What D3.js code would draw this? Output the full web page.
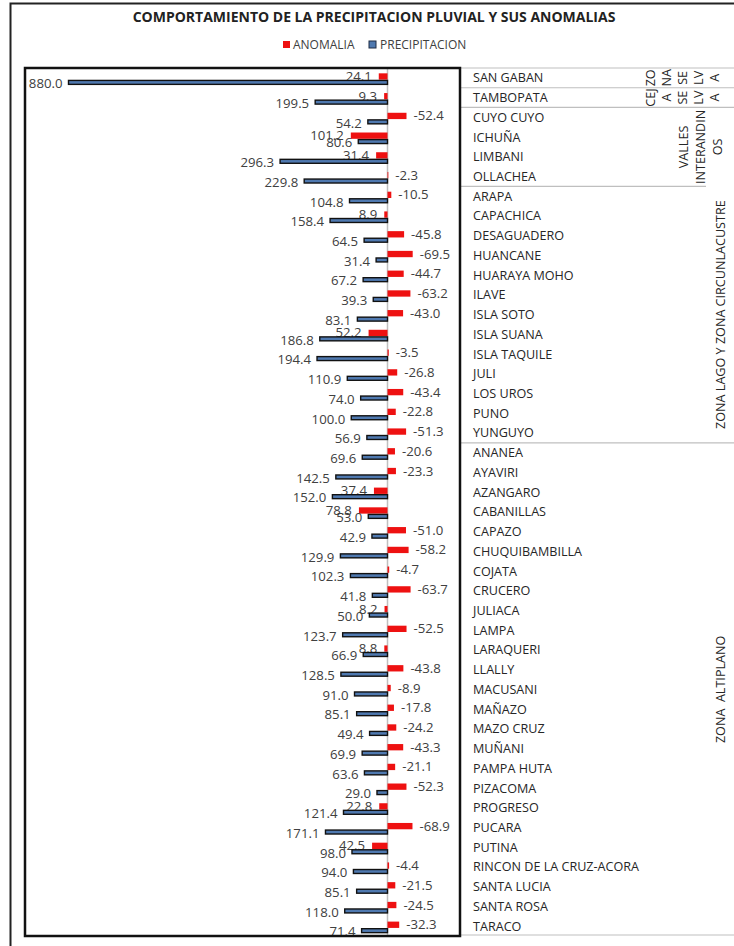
<!DOCTYPE html>
<html>
<head>
<meta charset="utf-8">
<script src="https://cdn.jsdelivr.net/npm/d3@7"></script>
<style>
  body { margin: 0; background: #fff; }
  text { font-family: "Open Sans", "Liberation Sans", sans-serif; }
</style>
</head>
<body>
<div id="chart"></div>
<script>
// estaciones, de arriba hacia abajo
var estaciones = ["SAN GABAN", "TAMBOPATA", "CUYO CUYO", "ICHUÑA", "LIMBANI", "OLLACHEA",
  "ARAPA", "CAPACHICA", "DESAGUADERO", "HUANCANE", "HUARAYA MOHO", "ILAVE", "ISLA SOTO",
  "ISLA SUANA", "ISLA TAQUILE", "JULI", "LOS UROS", "PUNO", "YUNGUYO",
  "ANANEA", "AYAVIRI", "AZANGARO", "CABANILLAS", "CAPAZO", "CHUQUIBAMBILLA", "COJATA",
  "CRUCERO", "JULIACA", "LAMPA", "LARAQUERI", "LLALLY", "MACUSANI", "MAÑAZO", "MAZO CRUZ",
  "MUÑANI", "PAMPA HUTA", "PIZACOMA", "PROGRESO", "PUCARA", "PUTINA",
  "RINCON DE LA CRUZ-ACORA", "SANTA LUCIA", "SANTA ROSA", "TARACO"];

var precipitacion = [880.0, 199.5, 54.2, 80.6, 296.3, 229.8,
  104.8, 158.4, 64.5, 31.4, 67.2, 39.3, 83.1, 186.8, 194.4, 110.9, 74.0, 100.0, 56.9,
  69.6, 142.5, 152.0, 53.0, 42.9, 129.9, 102.3, 41.8, 50.0, 123.7, 66.9, 128.5, 91.0,
  85.1, 49.4, 69.9, 63.6, 29.0, 121.4, 171.1, 98.0, 94.0, 85.1, 118.0, 71.4];

var anomalia = [24.1, 9.3, -52.4, 101.2, 31.4, -2.3,
  -10.5, 8.9, -45.8, -69.5, -44.7, -63.2, -43.0, 52.2, -3.5, -26.8, -43.4, -22.8, -51.3,
  -20.6, -23.3, 37.4, 78.8, -51.0, -58.2, -4.7, -63.7, 8.2, -52.5, 8.8, -43.8, -8.9,
  -17.8, -24.2, -43.3, -21.1, -52.3, 22.8, -68.9, 42.5, -4.4, -21.5, -24.5, -32.3];

// zonas: primera y ultima fila, y las lineas del texto girado
var zonaFilas = [[0, 0], [1, 1], [2, 5], [6, 18], [19, 43]];
var zonaTextos = [["ZO", "NA", "SE", "LV", "A"], ["CEJ", "A", "SE", "LV", "A"],
  ["VALLES", "INTERANDIN", "OS"], ["ZONA LAGO Y ZONA CIRCUNLACUSTRE"], ["ZONA  ALTIPLANO"]];

var serieNombres = ["ANOMALIA", "PRECIPITACION"];
var titulo = "COMPORTAMIENTO DE LA PRECIPITACION PLUVIAL Y SUS ANOMALIAS";

var W = 734, H = 946;
var rojo = "#ee1111", azul = "#4f79b0", gris = "#bfbfbf", textoColor = "#404040";

function fmt(v) { return v.toFixed(1); }

var svg = d3.select("#chart").append("svg")
  .attr("width", W)
  .attr("height", H);

// marco exterior
svg.append("path")
  .attr("d", "M10.5,946 V3.5 H734")
  .attr("fill", "none")
  .attr("stroke", "#222")
  .attr("stroke-width", 2);

svg.append("text")
  .attr("x", 374).attr("y", 22)
  .attr("text-anchor", "middle")
  .attr("font-size", 14)
  .attr("font-weight", "bold")
  .attr("fill", "#222")
  .text(titulo);

// leyenda
var leyenda = svg.append("g").attr("transform", "translate(283,45)");
leyenda.append("rect").attr("x", 0).attr("y", -4).attr("width", 7).attr("height", 7).attr("fill", rojo);
leyenda.append("text").attr("x", 10).attr("y", 0).attr("dy", "0.35em")
  .attr("font-size", 12).attr("fill", textoColor).text(serieNombres[0]);
leyenda.append("rect").attr("x", 86).attr("y", -4).attr("width", 7).attr("height", 7)
  .attr("fill", azul).attr("stroke", "#1f2d44").attr("stroke-width", 1);
leyenda.append("text").attr("x", 97).attr("y", 0).attr("dy", "0.35em")
  .attr("font-size", 12).attr("fill", textoColor).text(serieNombres[1]);

// escalas
var pL = 25, pR = 460, pT = 68, pB = 936;
var x = d3.scaleLinear().domain([1000, -200]).range([pL, pR]);
var y = d3.scaleBand().domain(estaciones).range([pT, pB]).padding(0);
var bw = y.bandwidth();

// tabla de la derecha
var tabla = svg.append("g");
zonaFilas.forEach(function (f, i) {
  var y0 = y(estaciones[f[0]]);
  tabla.append("line")
    .attr("x1", pR + 1).attr("x2", i === 3 ? 706 : W)
    .attr("y1", y0).attr("y2", y0)
    .attr("stroke", gris).attr("stroke-width", 1.2);
});
tabla.append("line")
  .attr("x1", pR + 1).attr("x2", W)
  .attr("y1", pB - 1).attr("y2", pB - 1)
  .attr("stroke", gris).attr("stroke-width", 1.2);

tabla.selectAll("text.estacion")
  .data(estaciones)
  .enter().append("text")
  .attr("class", "estacion")
  .attr("x", 473)
  .attr("y", function (d) { return y(d) + bw / 2; })
  .attr("dy", "0.36em")
  .attr("font-size", 12.6)
  .attr("fill", "#262626")
  .text(function (d) { return d; });

var zonaCentro = [682, 682, 700, 720, 720];
var zonaPaso = [16, 16, 17, 0, 0];
zonaTextos.forEach(function (lineas, i) {
  var f = zonaFilas[i];
  var cy = (y(estaciones[f[0]]) + y(estaciones[f[1]]) + bw) / 2;
  lineas.forEach(function (t, j) {
    var cx = zonaCentro[i] + (j - (lineas.length - 1) / 2) * zonaPaso[i];
    tabla.append("text")
      .attr("transform", "translate(" + cx + "," + cy + ") rotate(-90)")
      .attr("text-anchor", "middle")
      .attr("dy", "0.36em")
      .attr("font-size", 12.6)
      .attr("fill", "#262626")
      .style("white-space", "pre")
      .text(t);
  });
});

// area del grafico
var plot = svg.append("g");

plot.append("line")
  .attr("x1", x(0)).attr("x2", x(0))
  .attr("y1", pT).attr("y2", pB)
  .attr("stroke", gris).attr("stroke-width", 1.5);

var filas = estaciones.map(function (d, i) {
  return { estacion: d, prec: precipitacion[i], anom: anomalia[i] };
});

// anomalia se dibuja con el signo invertido (eje invertido)
plot.selectAll("rect.anom")
  .data(filas)
  .enter().append("rect")
  .attr("class", "anom")
  .attr("x", function (d) { return Math.min(x(d.anom), x(0)); })
  .attr("y", function (d) { return y(d.estacion) + bw * 0.27; })
  .attr("width", function (d) { return Math.abs(x(d.anom) - x(0)); })
  .attr("height", bw * 0.32)
  .attr("fill", rojo);

plot.selectAll("text.anom")
  .data(filas)
  .enter().append("text")
  .attr("class", "anom")
  .attr("x", function (d) { return d.anom < 0 ? x(d.anom) + 7 : x(d.anom) - 7; })
  .attr("y", function (d) { return y(d.estacion) + bw * 0.42; })
  .attr("dy", "0.36em")
  .attr("text-anchor", function (d) { return d.anom < 0 ? "start" : "end"; })
  .attr("font-size", 13.2)
  .attr("fill", textoColor)
  .text(function (d) { return fmt(d.anom); });

plot.selectAll("rect.prec")
  .data(filas)
  .enter().append("rect")
  .attr("class", "prec")
  .attr("x", function (d) { return x(d.prec); })
  .attr("y", function (d) { return y(d.estacion) + bw * 0.63; })
  .attr("width", function (d) { return x(0) - x(d.prec); })
  .attr("height", bw * 0.2)
  .attr("fill", azul)
  .attr("stroke", "#111")
  .attr("stroke-width", 1.4);

plot.selectAll("text.prec")
  .data(filas)
  .enter().append("text")
  .attr("class", "prec")
  .attr("x", function (d) { return x(d.prec) - 6; })
  .attr("y", function (d) { return y(d.estacion) + bw * 0.78; })
  .attr("dy", "0.36em")
  .attr("text-anchor", "end")
  .attr("font-size", 13.2)
  .attr("fill", textoColor)
  .text(function (d) { return fmt(d.prec); });

// borde del area del grafico
plot.append("rect")
  .attr("x", pL).attr("y", pT)
  .attr("width", pR - pL).attr("height", pB - pT)
  .attr("fill", "none")
  .attr("stroke", "#111")
  .attr("stroke-width", 2.5);
</script>
</body>
</html>
